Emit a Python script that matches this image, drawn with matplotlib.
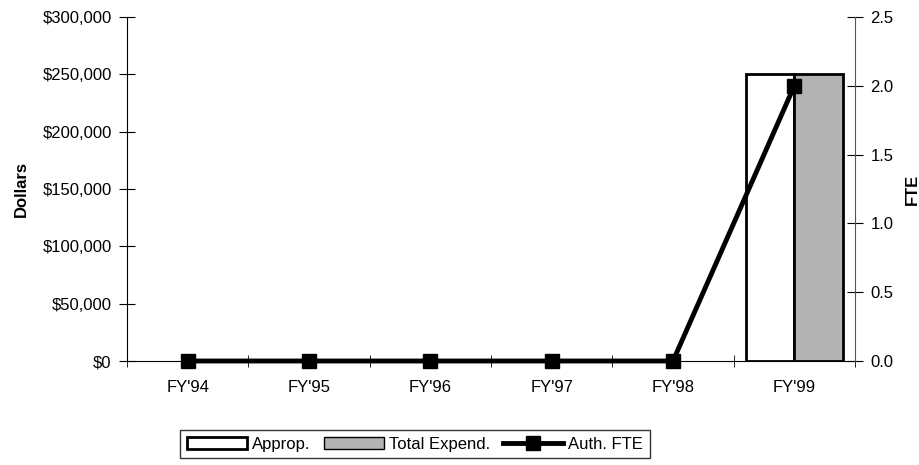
import numpy as np
import matplotlib
matplotlib.use("Agg")
import matplotlib.pyplot as plt
from matplotlib.patches import Patch
from matplotlib.ticker import FuncFormatter

plt.rcParams['font.family'] = ['Liberation Sans', 'DejaVu Sans']

years = ["FY'94", "FY'95", "FY'96", "FY'97", "FY'98", "FY'99"]
approp = [0, 0, 0, 0, 0, 250000]
expend = [0, 0, 0, 0, 0, 250000]
fte = [0, 0, 0, 0, 0, 2.0]

fig = plt.figure(figsize=(9.2, 4.65), dpi=100)
ax = fig.add_axes([127/920, 1 - 361/465, (855 - 127)/920, (361 - 17)/465])
ax2 = ax.twinx()

x = np.arange(len(years))
w = 0.4
b1 = ax.bar(x - w/2, approp, w, color='white', edgecolor='black', linewidth=2)
b2 = ax.bar(x + w/2, expend, w, color='#b3b3b3', edgecolor='black', linewidth=2)
# empty bars would otherwise show as a thick edge along the axis
for bars in (b1, b2):
    for p in bars.patches:
        if p.get_height() == 0:
            p.set_linewidth(0)
ln, = ax2.plot(x, fte, color='black', lw=3.5, marker='s', ms=10, clip_on=False)

ax.set_xlim(-0.5, len(years) - 0.5)
ax.set_ylim(0, 300000)
ax2.set_ylim(0, 2.5)
ax.set_yticks(np.arange(0, 300001, 50000))
ax2.set_yticks(np.arange(0, 2.51, 0.5))
ax.yaxis.set_major_formatter(FuncFormatter(lambda v, p: f"${v:,.0f}"))
ax2.yaxis.set_major_formatter(FuncFormatter(lambda v, p: f"{v:.1f}"))

ax.set_xticks(x)
ax.set_xticklabels(years)
ax.set_xticks(np.arange(-0.5, len(years)), minor=True)
ax.tick_params(axis='x', which='major', length=0, pad=14, labelsize=12)
ax.tick_params(axis='x', which='minor', direction='inout', length=8)
ax.tick_params(axis='y', direction='inout', length=12, labelsize=12, pad=5)
ax2.tick_params(axis='y', direction='inout', length=12, labelsize=12, pad=5)

for a in (ax, ax2):
    a.spines['top'].set_visible(False)
ax.spines['right'].set_visible(False)
ax2.spines['left'].set_visible(False)
ax2.spines['bottom'].set_visible(False)
ax2.spines['right'].set_color('#555555')

ax.set_ylabel('Dollars', fontsize=12, fontweight='bold', labelpad=10)
ax2.set_ylabel('FTE', fontsize=12, fontweight='bold', labelpad=8)

h1 = Patch(facecolor='white', edgecolor='black', linewidth=2)
h2 = Patch(facecolor='#b3b3b3', edgecolor='black', linewidth=1)
fig.legend([h1, h2, ln], ['Approp.', 'Total Expend.', 'Auth. FTE'],
           loc='upper center', bbox_to_anchor=(415/920, 1 - 430/465), ncol=3,
           frameon=True, fancybox=False, edgecolor='black', fontsize=12,
           handlelength=3.6, handletextpad=0.3, columnspacing=0.8, borderaxespad=0)

fig.savefig('out.png', dpi=100)
